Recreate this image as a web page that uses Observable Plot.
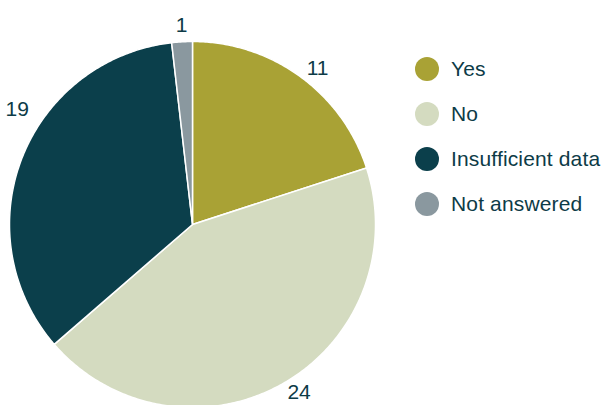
<!DOCTYPE html>
<html>
<head>
<meta charset="utf-8">
<script src="https://cdn.jsdelivr.net/npm/d3@7"></script>
<script src="https://cdn.jsdelivr.net/npm/@observablehq/plot@0.6"></script>
<style>
  html, body { margin: 0; padding: 0; background: #fff; }
  #wrap { position: relative; width: 607px; height: 405px; overflow: hidden; font-family: "Liberation Sans", Arial, sans-serif; }
  #legend { position: absolute; left: 415px; top: 57px; display: flex; flex-direction: column; gap: 21px; }
  .row { display: flex; align-items: center; height: 24px; }
  .sw { width: 24px; height: 24px; border-radius: 50%; margin-right: 12px; flex: none; }
  .lab { font-size: 21px; letter-spacing: 0.15px; color: #0d3b47; white-space: nowrap; }
</style>
</head>
<body>
<div id="wrap"><div id="legend"></div></div>
<script>
const categories = ["Yes", "No", "Insufficient data", "Not answered"];
const counts = [11, 24, 19, 1];
const colors = ["#a9a235", "#d4dbc0", "#0b3f4b", "#8a989f"];

const W = 607, H = 405;
const cx = 192, cy = 224, R = 183;
const FS = 21;
const data = categories.map((c, i) => ({category: c, count: counts[i]}));
const arcs = d3.pie().sort(null).value(d => d.count)(data);

// polygon points for each slice
const pts = [];
arcs.forEach(a => {
  const cat = a.data.category;
  pts.push({category: cat, x: 0, y: 0});
  const n = Math.max(4, Math.ceil((a.endAngle - a.startAngle) / 0.01));
  for (let k = 0; k <= n; k++) {
    const t = a.startAngle + (a.endAngle - a.startAngle) * k / n;
    pts.push({category: cat, x: R * Math.sin(t), y: R * Math.cos(t)});
  }
});

// outside-end labels: box anchored next to the point just outside the rim
const labels = arcs.map(a => {
  const text = String(a.data.count);
  const w = 0.556 * FS * text.length, h = 14;
  const t = (a.startAngle + a.endAngle) / 2;
  const s = Math.sin(t), c = Math.cos(t);
  const r1 = R + 10;
  let x = r1 * s, y = r1 * c;
  const h_anchor = s > 0.3 ? "start" : s < -0.3 ? "end" : "middle";
  const v_anchor = Math.abs(s) <= 0.3 ? (c > 0 ? "bottom" : "top") : "middle";
  if (h_anchor === "end" && (cx + x - w) < 5) {
    const r2 = 200;
    x = -(cx - 5 - w);
    y = Math.sign(c) * Math.sqrt(r2 * r2 - x * x);
  }
  const lx = x + (h_anchor === "start" ? w / 2 : h_anchor === "end" ? -w / 2 : 0);
  const ly = y + (v_anchor === "bottom" ? h / 2 : v_anchor === "top" ? -h / 2 : 0);
  return {text, x: lx, y: ly};
});

const chart = Plot.plot({
  width: W, height: H,
  margin: 0,
  x: {domain: [-cx, W - cx], range: [0, W], axis: null},
  y: {domain: [-(H - cy), cy], range: [H, 0], axis: null},
  color: {domain: categories, range: colors},
  style: {fontFamily: "'Liberation Sans', Arial, sans-serif", background: "white"},
  marks: [
    Plot.line(pts, {x: "x", y: "y", z: "category", fill: "category", stroke: "white", strokeWidth: 1.5, curve: "linear-closed"}),
    Plot.text(labels, {x: "x", y: "y", text: "text", fill: "#0d3b47", fontSize: FS, textAnchor: "middle", lineAnchor: "middle"})
  ]
});
chart.style.position = "absolute";
chart.style.left = "0";
chart.style.top = "0";
const wrap = document.getElementById("wrap");
wrap.insertBefore(chart, wrap.firstChild);

const legend = document.getElementById("legend");
categories.forEach((c, i) => {
  const row = document.createElement("div");
  row.className = "row";
  const sw = document.createElement("div");
  sw.className = "sw";
  sw.style.background = colors[i];
  const lab = document.createElement("div");
  lab.className = "lab";
  lab.textContent = c;
  row.appendChild(sw); row.appendChild(lab);
  legend.appendChild(row);
});
</script>
</body>
</html>
